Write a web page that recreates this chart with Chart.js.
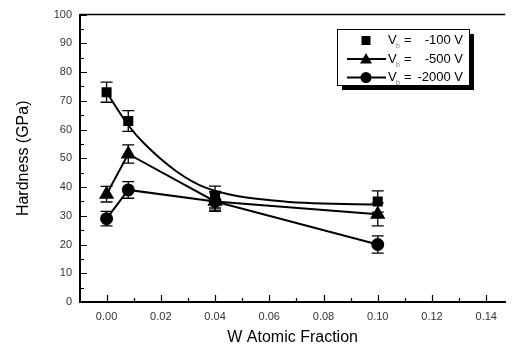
<!DOCTYPE html>
<html><head><meta charset="utf-8">
<script src="https://cdn.jsdelivr.net/npm/chart.js@4/dist/chart.umd.min.js"></script>
<style>html,body{margin:0;padding:0;background:#fff}#wrap{width:514px;height:347px}</style>
</head><body><div id="wrap"><canvas id="c" width="514" height="347"></canvas></div>
<script>
// ---- data ----
const wFraction = [0, 0.008, 0.04, 0.1];
const hard100 = [73, 63, 36.5, 35];
const err100 = [3.5, 3.6, 3.8, 3.7];
const hard500 = [37.5, 51.5, 35, 30.5];
const err500 = [2.7, 3.2, 3.5, 4];
const hard2000 = [29, 39, 35, 20];
const err2000 = [2.5, 2.9, 3, 3];
// fitted curve of the -100 V series
const fitX100 = [0, 0.008, 0.0137, 0.0257, 0.0365, 0.0625, 0.1];
const fitY100 = [73, 61.5, 55.3, 45.5, 39.8, 35.2, 33.8];
const xTickValues = [0, 0.02, 0.04, 0.06, 0.08, 0.10, 0.12, 0.14];
const yTickValues = [0, 10, 20, 30, 40, 50, 60, 70, 80, 90, 100];
const legendLabels = ["-100 V", "-500 V", "-2000 V"];
const xTitle = "W Atomic Fraction";
const yTitle = "Hardness (GPa)";

const pts = (xs, ys) => xs.map((x, i) => ({x: x, y: ys[i]}));
const NARROW = '"Liberation Sans Narrow", "Liberation Sans", Arial, sans-serif';
const SANS = '"Liberation Sans", Arial, sans-serif';

const errorBars = {
  id: 'errorBars',
  beforeDatasetsDraw(chart) {
    const ctx = chart.ctx, xs = chart.scales.x, ys = chart.scales.y;
    ctx.save();
    ctx.strokeStyle = '#000'; ctx.lineWidth = 1.3;
    chart.data.datasets.forEach(ds => {
      if (!ds.errors) return;
      ds.data.forEach((p, i) => {
        const px = xs.getPixelForValue(p.x);
        const t = ys.getPixelForValue(p.y + ds.errors[i]);
        const b = ys.getPixelForValue(p.y - ds.errors[i]);
        ctx.beginPath();
        ctx.moveTo(px, t); ctx.lineTo(px, b);
        ctx.moveTo(px - 6, t); ctx.lineTo(px + 6, t);
        ctx.moveTo(px - 6, b); ctx.lineTo(px + 6, b);
        ctx.stroke();
      });
    });
    ctx.restore();
  }
};

function marker(ctx, kind, x, y) {
  ctx.beginPath();
  if (kind === 'rect') { ctx.rect(x - 4.5, y - 4.5, 9, 9); }
  else if (kind === 'triangle') { ctx.moveTo(x, y - 6); ctx.lineTo(x + 6, y + 4.5); ctx.lineTo(x - 6, y + 4.5); ctx.closePath(); }
  else { ctx.arc(x, y, 5.5, 0, Math.PI * 2); }
  ctx.fill();
}

const frameAndLegend = {
  id: 'frameAndLegend',
  beforeDatasetsDraw(chart) {
    const ctx = chart.ctx, a = chart.chartArea, xs = chart.scales.x, ys = chart.scales.y;
    ctx.save();
    ctx.strokeStyle = '#000';
    ctx.lineWidth = 1.5;
    ctx.beginPath(); ctx.moveTo(a.left, a.top); ctx.lineTo(a.right, a.top); ctx.stroke();
    ctx.lineWidth = 1.2;
    ctx.beginPath();
    for (let v = 0; v <= 100; v += 5) {
      const py = Math.round(ys.getPixelForValue(v)) + 0.5;
      const len = (v % 10 === 0) ? 7 : 4;
      ctx.moveTo(a.left, py); ctx.lineTo(a.left + len, py);
    }
    for (let k = -1; k <= 14; k++) {
      const v = k * 0.01;
      const px = Math.round(xs.getPixelForValue(v)) + 0.5;
      if (px < a.left || px > a.right) continue;
      const len = (k % 2 === 0) ? 7 : 4;
      ctx.moveTo(px, a.bottom); ctx.lineTo(px, a.bottom - len);
    }
    ctx.stroke();
    ctx.restore();
  },
  afterDraw(chart) {
    const ctx = chart.ctx;
    ctx.save();
    const L = 337, T = 29, W = 132, H = 56;
    ctx.fillStyle = '#000';
    ctx.fillRect(L + 5, T + 5, W, H);
    ctx.fillStyle = '#fff';
    ctx.fillRect(L, T, W, H);
    ctx.strokeStyle = '#000'; ctx.lineWidth = 1;
    ctx.strokeRect(L + 0.5, T + 0.5, W, H);
    const rows = [40.5, 59, 77.5];
    const kinds = ['rect', 'triangle', 'circle'];
    rows.forEach((y, i) => {
      ctx.fillStyle = '#000'; ctx.strokeStyle = '#000';
      if (i > 0) {
        ctx.lineWidth = 2;
        ctx.beginPath(); ctx.moveTo(347, y); ctx.lineTo(386, y); ctx.stroke();
      }
      marker(ctx, kinds[i], 366, y);
      ctx.textBaseline = 'middle';
      ctx.textAlign = 'left';
      ctx.font = '13px ' + NARROW;
      ctx.fillText('V', 388, y);
      ctx.font = '7px ' + NARROW;
      ctx.fillStyle = '#777';
      ctx.fillText('b', 396, y + 6);
      ctx.fillStyle = '#000';
      ctx.font = '13px ' + NARROW;
      ctx.fillText('=', 404, y);
      ctx.textAlign = 'right';
      ctx.fillText(legendLabels[i], 463, y);
    });
    ctx.restore();
  }
};

new Chart(document.getElementById('c'), {
  type: 'scatter',
  data: {
    datasets: [
      { label: 'fit100', data: pts(fitX100, fitY100), showLine: true, pointRadius: 0,
        borderColor: '#000', borderWidth: 2, cubicInterpolationMode: 'monotone' },
      { label: 'Vb = -100 V', data: pts(wFraction, hard100), errors: err100, showLine: false,
        pointStyle: 'rect', pointRadius: 7.1, backgroundColor: '#000', borderColor: '#000', borderWidth: 0 },
      { label: 'Vb = -500 V', data: pts(wFraction, hard500), errors: err500, showLine: true,
        pointStyle: 'triangle', pointRadius: 6.8, backgroundColor: '#000', borderColor: '#000', borderWidth: 2 },
      { label: 'Vb = -2000 V', data: pts(wFraction, hard2000), errors: err2000, showLine: true,
        pointStyle: 'circle', pointRadius: 5.5, backgroundColor: '#000', borderColor: '#000', borderWidth: 2 }
    ]
  },
  options: {
    responsive: false, animation: false, devicePixelRatio: 1,
    layout: { padding: { top: 12, left: 0, right: 0, bottom: 0 } },
    plugins: { legend: { display: false }, tooltip: { enabled: false } },
    scales: {
      x: {
        type: 'linear', min: -0.0098, max: 0.147,
        afterFit(s) { s.height = 45; },
        afterBuildTicks(s) { s.ticks = xTickValues.map(v => ({value: v})); },
        grid: { display: false, drawTicks: false },
        border: { display: true, color: '#000', width: 2 },
        ticks: { padding: 8, color: '#333', font: { family: NARROW, size: 11 },
                 maxRotation: 0, autoSkip: false, callback: v => v.toFixed(2) },
        title: { display: true, text: xTitle, color: '#000', font: { family: SANS, size: 16 }, padding: { top: 4, bottom: 0 } }
      },
      y: {
        type: 'linear', min: 0, max: 100,
        afterFit(s) { s.width = 80; },
        afterBuildTicks(s) { s.ticks = yTickValues.map(v => ({value: v})); },
        grid: { display: false, drawTicks: false },
        border: { display: true, color: '#000', width: 2 },
        ticks: { padding: 8, color: '#333', font: { family: NARROW, size: 11 }, autoSkip: false },
        title: { display: true, text: yTitle, color: '#000', font: { family: SANS, size: 16 }, padding: { top: 14, bottom: 0 } }
      }
    }
  },
  plugins: [errorBars, frameAndLegend]
});
</script></body></html>
